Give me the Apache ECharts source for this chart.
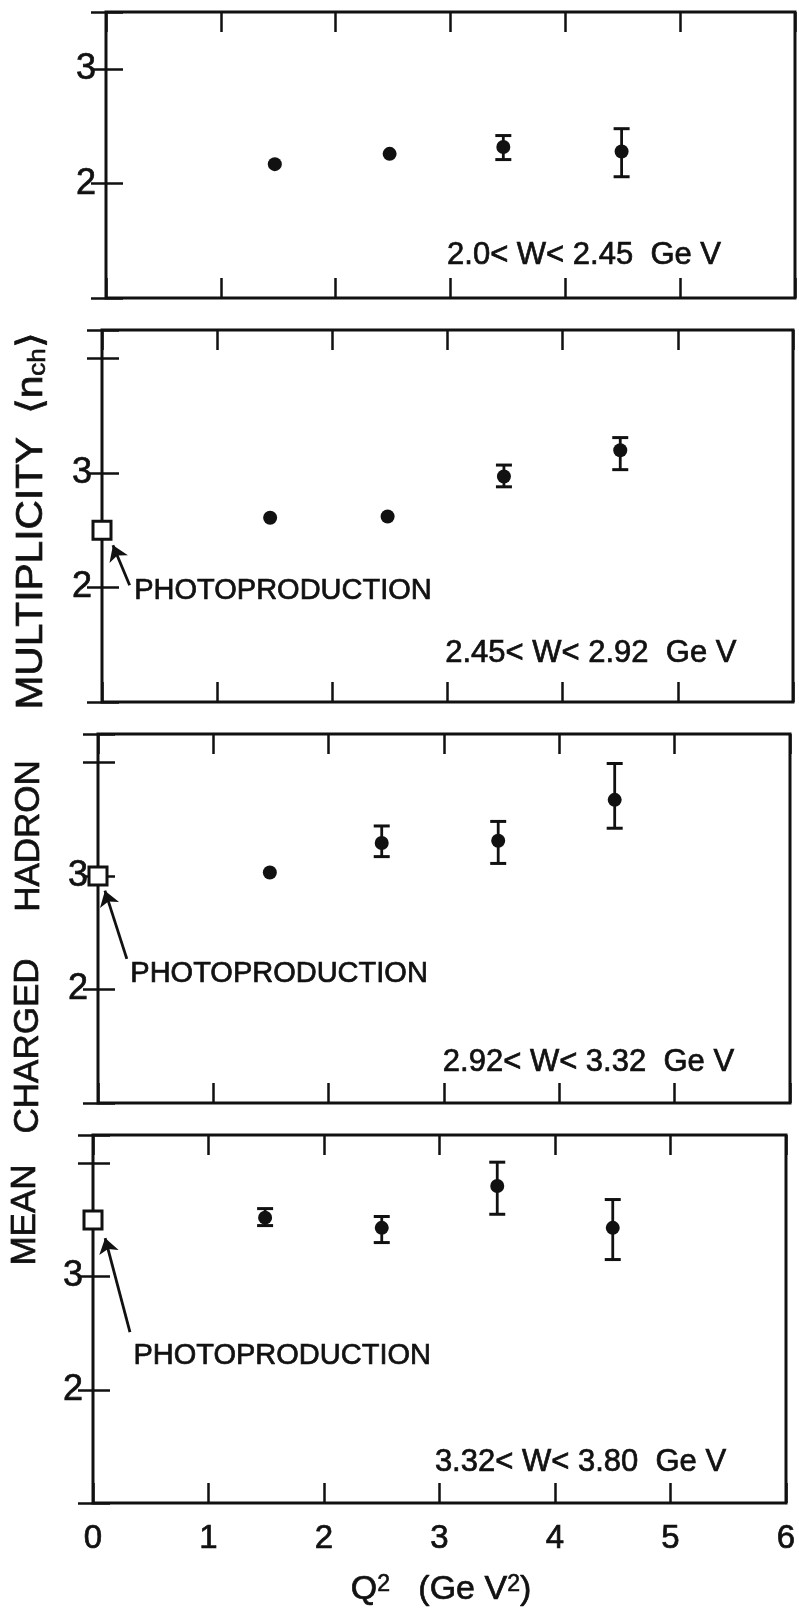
<!DOCTYPE html>
<html>
<head>
<meta charset="utf-8">
<script src="https://cdn.jsdelivr.net/npm/echarts@6/dist/echarts.min.js"></script>
<style>
  html, body { margin: 0; padding: 0; background: #fff; }
  #chart { width: 799px; height: 1616px; }
</style>
</head>
<body>
<div id="chart"></div>
<script>
// Mean charged hadron multiplicity vs Q^2, four W bins (top to bottom)
const wBinLabels = ['2.0< W< 2.45  Ge V', '2.45< W< 2.92  Ge V', '2.92< W< 3.32  Ge V', '3.32< W< 3.80  Ge V'];
const q2Values = [
  [1.47, 2.47, 3.46, 4.49],
  [1.46, 2.48, 3.49, 4.50],
  [1.49, 2.46, 3.47, 4.48],
  [1.49, 2.50, 3.50, 4.50]
];
const nchValues = [
  [2.17, 2.26, 2.32, 2.28],
  [2.61, 2.62, 2.97, 3.20],
  [3.03, 3.29, 3.31, 3.67],
  [3.52, 3.43, 3.80, 3.43]
];
const errUp = [
  [0, 0, 0.10, 0.20],
  [0, 0, 0.10, 0.11],
  [0, 0.15, 0.17, 0.32],
  [0.08, 0.10, 0.21, 0.25]
];
const errDown = [
  [0, 0, 0.11, 0.22],
  [0, 0, 0.09, 0.17],
  [0, 0.12, 0.20, 0.25],
  [0.07, 0.13, 0.25, 0.28]
];
// photoproduction point at Q^2 = 0 (none for the lowest W bin)
const photoproduction = [null, 2.5, 3.0, 3.5];
const yAxisMax = [3.5, 4.25, 4.25, 4.25];
const yTickLabels = [2, 3];
const xTickLabels = [0, 1, 2, 3, 4, 5, 6];

// annotation anchors in data coordinates
const arrowTail = [null, [0.24, 2.02], [0.25, 2.27], [0.32, 2.51]];
const arrowHead = [null, [0.095, 2.37], [0.06, 2.87], [0.105, 3.34]];
const photoLabelAt = [null, [0.28, 1.97], [0.28, 2.14], [0.35, 2.30]];
const wLabelAt = [[2.97, 1.376], [2.98, 1.42], [2.99, 1.36], [2.96, 1.36]];

const INK = '#111';
const FONT = "'Liberation Sans', Arial, sans-serif";
const INK_TEXT = { color: INK, fontFamily: FONT, textBorderColor: INK, textBorderWidth: 0.7 };

const layout = [
  { left: 106, top: 12, width: 689, height: 286 },
  { left: 102, top: 330, width: 691, height: 372 },
  { left: 98, top: 734, width: 692, height: 369 },
  { left: 93, top: 1135, width: 693, height: 368 }
];

const grids = [], xAxes = [], yAxes = [], series = [];

layout.forEach((g, i) => {
  grids.push({
    left: g.left, top: g.top, width: g.width, height: g.height,
    show: true, borderColor: INK, borderWidth: 3, backgroundColor: 'transparent'
  });
  const tickStyle = { color: INK, width: 2.5 };
  const xBase = {
    gridIndex: i, type: 'value', min: 0, max: 6, interval: 1,
    axisLine: { show: false }, splitLine: { show: false }
  };
  xAxes.push(Object.assign({}, xBase, {
    position: 'bottom',
    axisTick: { inside: true, length: 20, lineStyle: tickStyle },
    axisLabel: Object.assign({
      show: i === layout.length - 1, fontSize: 33, margin: 19,
      formatter: v => xTickLabels.includes(v) ? String(v) : ''
    }, INK_TEXT)
  }));
  xAxes.push(Object.assign({}, xBase, {
    position: 'top',
    axisTick: { inside: true, length: 20, lineStyle: tickStyle },
    axisLabel: { show: false }
  }));
  const yBase = {
    gridIndex: i, type: 'value', min: 1, max: yAxisMax[i], interval: 1,
    axisLine: { show: false }, splitLine: { show: false }
  };
  yAxes.push(Object.assign({}, yBase, {
    position: 'left',
    axisTick: { inside: true, length: 17, lineStyle: tickStyle },
    axisLabel: Object.assign({
      fontSize: 36, margin: 10,
      formatter: v => yTickLabels.includes(v) ? String(v) : ''
    }, INK_TEXT)
  }));
  yAxes.push(Object.assign({}, yBase, {
    position: 'right',
    axisTick: { inside: true, length: 15, lineStyle: tickStyle },
    axisLabel: { show: false }
  }));

  const xi = i * 2, yi = i * 2;

  // measured points
  series.push({
    type: 'scatter', xAxisIndex: xi, yAxisIndex: yi,
    data: q2Values[i].map((x, j) => [x, nchValues[i][j]]),
    symbol: 'circle', symbolSize: 14,
    itemStyle: { color: INK, opacity: 1 }, clip: false, z: 5, silent: true
  });

  // error bars
  const errData = [];
  q2Values[i].forEach((x, j) => {
    if (errUp[i][j] > 0 || errDown[i][j] > 0) errData.push([x, nchValues[i][j], errUp[i][j], errDown[i][j]]);
  });
  series.push({
    type: 'custom', xAxisIndex: xi, yAxisIndex: yi, data: errData, clip: false, z: 4, silent: true,
    renderItem: (params, api) => {
      const x = api.value(0), y = api.value(1);
      const top = api.coord([x, y + api.value(2)]);
      const bot = api.coord([x, y - api.value(3)]);
      const cap = 8;
      return {
        type: 'group',
        children: [
          { type: 'line', shape: { x1: top[0], y1: top[1], x2: bot[0], y2: bot[1] }, style: { stroke: INK, lineWidth: 2.8 } },
          { type: 'line', shape: { x1: top[0] - cap, y1: top[1], x2: top[0] + cap, y2: top[1] }, style: { stroke: INK, lineWidth: 3 } },
          { type: 'line', shape: { x1: bot[0] - cap, y1: bot[1], x2: bot[0] + cap, y2: bot[1] }, style: { stroke: INK, lineWidth: 3 } }
        ]
      };
    }
  });

  // photoproduction square, its arrow and the text labels of the panel
  const labels = [{ coord: wLabelAt[i], name: wBinLabels[i], label: { fontSize: 31 } }];
  if (photoLabelAt[i]) labels.push({ coord: photoLabelAt[i], name: 'PHOTOPRODUCTION' });
  series.push({
    type: 'scatter', xAxisIndex: xi, yAxisIndex: yi,
    data: photoproduction[i] == null ? [] : [[0, photoproduction[i]]],
    symbol: 'rect', symbolSize: [18, 18],
    itemStyle: { color: '#fff', borderColor: INK, borderWidth: 3, opacity: 1 },
    clip: false, z: 6, silent: true,
    markLine: photoproduction[i] == null ? undefined : {
      silent: true, animation: false,
      symbol: ['none', 'arrow'], symbolSize: 15,
      lineStyle: { color: INK, width: 2.8, type: 'solid', opacity: 1 },
      itemStyle: { color: INK },
      label: { show: false },
      emphasis: { disabled: true },
      data: [[{ coord: arrowTail[i] }, { coord: arrowHead[i] }]]
    },
    markPoint: {
      silent: true, animation: false,
      symbol: 'circle', symbolSize: 0,
      label: Object.assign({
        show: true, position: 'right', distance: 0, fontSize: 29,
        formatter: p => p.name
      }, INK_TEXT),
      data: labels
    }
  });
});

const textStyle = (text, size, extra) => Object.assign({
  text: text, fill: INK, stroke: INK, lineWidth: 0.7,
  fontSize: size, fontFamily: FONT, align: 'center', verticalAlign: 'middle'
}, extra || {});

const titleWord = (text, x, y) => ({
  type: 'text', x: x, y: y, rotation: Math.PI / 2, silent: true,
  style: textStyle(text, 35)
});

const graphics = [
  titleWord('MEAN', 25, 1215),
  titleWord('CHARGED', 28, 1046),
  titleWord('HADRON', 29, 836),
  {
    type: 'text', x: 32, y: 521, rotation: Math.PI / 2, scaleX: 1.13, silent: true,
    style: textStyle('MULTIPLICITY  \u27E8n{s|ch}\u27E9', 36, {
      rich: { s: { fontSize: 23, fontFamily: FONT, fill: INK, stroke: INK, lineWidth: 0.6, verticalAlign: 'bottom' } }
    })
  },
  {
    type: 'text', x: 441, y: 1590, silent: true,
    style: textStyle('Q{s|2}   (Ge V{s|2})', 34, {
      rich: { s: { fontSize: 23, fontFamily: FONT, fill: INK, stroke: INK, lineWidth: 0.6, verticalAlign: 'top' } }
    })
  }
];

const chart = echarts.init(document.getElementById('chart'), null, { renderer: 'canvas' });
chart.setOption({
  backgroundColor: '#fff',
  animation: false,
  grid: grids,
  xAxis: xAxes,
  yAxis: yAxes,
  series: series,
  graphic: graphics
});
</script>
</body>
</html>
